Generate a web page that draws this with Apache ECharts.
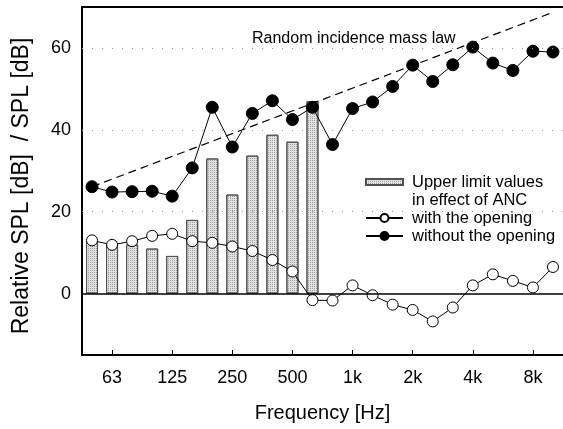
<!DOCTYPE html>
<html>
<head>
<meta charset="utf-8">
<script src="https://cdn.jsdelivr.net/npm/echarts@6/dist/echarts.min.js"></script>
<style>
html,body{margin:0;padding:0;background:#fff;}
#chart{width:563px;height:429px;}
</style>
</head>
<body>
<div id="chart"></div>
<script>
// Third-octave band centre frequencies
var bands = ["50","63","80","100","125","160","200","250","315","400","500","630","800","1k","1.25k","1.6k","2k","2.5k","3.15k","4k","5k","6.3k","8k","10k"];
var tickLabels = ["63","125","250","500","1k","2k","4k","8k"];
// Upper limit values in effect of ANC (bars, 50 Hz .. 630 Hz)
var upperLimit = [13.0, 11.9, 12.0, 11.0, 9.2, 18.0, 33.0, 24.2, 33.7, 38.8, 37.1, 47.0, '-', '-', '-', '-', '-', '-', '-', '-', '-', '-', '-', '-'];
// with the opening
var withOpening = [13.0, 11.9, 12.8, 14.1, 14.6, 12.8, 12.4, 11.5, 10.4, 8.2, 5.4, -1.6, -1.7, 2.0, -0.4, -2.7, -4.0, -6.8, -3.4, 2.0, 4.7, 3.1, 1.5, 6.5];
// without the opening
var withoutOpening = [26.1, 24.8, 24.9, 25.0, 23.8, 30.7, 45.5, 35.8, 44.0, 47.1, 42.5, 45.5, 36.4, 45.2, 46.8, 50.6, 55.8, 51.8, 55.9, 60.2, 56.3, 54.5, 59.2, 59.0];
// Random incidence mass law (straight line between end bands)
var massLaw = [26.1, '-', '-', '-', '-', '-', '-', '-', '-', '-', '-', '-', '-', '-', '-', '-', '-', '-', '-', '-', '-', '-', '-', 68.7];
var gridLines = [20, 40, 60];
var yLabels = [0, 20, 40, 60];

var FONT = '"Liberation Sans", Arial, Helvetica, sans-serif';
var chart = echarts.init(document.getElementById('chart'), null, {renderer: 'canvas'});

var nameBar = 'Upper limit values\nin effect of ANC';
var nameWith = 'with the opening';
var nameWithout = 'without the opening';

var markData = gridLines.map(function (v) {
  return {yAxis: v, lineStyle: {color: '#9a9a9a', type: [1, 9], width: 1}};
});
markData.push({yAxis: 0, lineStyle: {color: '#000', type: 'solid', width: 1.5}});

var option = {
  animation: false,
  backgroundColor: '#fff',
  textStyle: {fontFamily: FONT, color: '#000'},
  title: {
    text: 'Random incidence mass law',
    left: 252, top: 31,
    textStyle: {fontFamily: FONT, fontSize: 16, fontWeight: 'normal', color: '#000'},
    padding: 0
  },
  grid: {left: 82, right: -1, top: 7, bottom: 74},
  legend: {
    orient: 'vertical',
    left: 365, top: 155,
    padding: 0,
    itemGap: 0,
    itemWidth: 37, itemHeight: 10,
    textStyle: {fontFamily: FONT, fontSize: 16.5, lineHeight: 18, color: '#000', padding: [0, 0, 0, 4]},
    formatter: function (name) {
      return name === nameBar ? ' \n' + name : name;
    },
    data: [
      {name: nameBar, icon: 'path://M0,0H37V6H0Z'},
      {name: nameWith},
      {name: nameWithout}
    ]
  },
  xAxis: [{
    type: 'category',
    data: bands,
    position: 'bottom',
    boundaryGap: true,
    axisLine: {show: true, onZero: false, lineStyle: {color: '#000', width: 2}},
    axisTick: {
      show: true,
      inside: true, length: 5, alignWithLabel: true,
      lineStyle: {color: '#000', width: 1},
      interval: function (i, v) { return tickLabels.indexOf(v) >= 0; }
    },
    axisLabel: {
      fontFamily: FONT, fontSize: 18, color: '#000', margin: 14,
      interval: function (i, v) { return tickLabels.indexOf(v) >= 0; }
    },
    splitLine: {show: false},
    name: 'Frequency [Hz]',
    nameLocation: 'middle',
    nameGap: 48,
    nameTextStyle: {fontFamily: FONT, fontSize: 20, color: '#000'}
  }, {
    type: 'category',
    data: bands,
    position: 'top',
    axisLine: {show: true, onZero: false, lineStyle: {color: '#000', width: 2}},
    axisTick: {show: false},
    axisLabel: {show: false}
  }],
  yAxis: {
    type: 'value',
    min: -15, max: 70, interval: 5,
    axisLine: {show: true, onZero: false, lineStyle: {color: '#000', width: 2}},
    axisTick: {show: false},
    splitLine: {show: false},
    axisLabel: {
      fontFamily: FONT, fontSize: 18, color: '#000', margin: 11,
      formatter: function (v) { return yLabels.indexOf(v) >= 0 ? String(v) : ''; }
    },
    name: 'Relative SPL [dB]  / SPL [dB]',
    nameLocation: 'middle',
    nameGap: 49,
    nameTextStyle: {fontFamily: FONT, fontSize: 23, color: '#000', padding: [0, 10, 0, 0]}
  },
  series: [
    {
      name: nameBar,
      type: 'bar',
      data: upperLimit,
      barWidth: 12,
      z: 1,
      itemStyle: {
        color: '#e2e2e2',
        borderColor: '#505050',
        borderWidth: 1,
        decal: {symbol: 'rect', symbolSize: 1, dashArrayX: [1, 1], dashArrayY: [1, 1], color: 'rgba(0,0,0,0.3)'}
      },
      markLine: {
        silent: true, symbol: 'none', label: {show: false},
        data: markData
      }
    },
    {
      name: 'mass law',
      type: 'line',
      data: massLaw,
      connectNulls: true,
      showSymbol: false,
      symbol: 'none',
      z: 2,
      lineStyle: {color: '#000', width: 1.2, type: [8, 5]}
    },
    {
      name: nameWith,
      type: 'line',
      data: withOpening,
      symbol: 'circle',
      symbolSize: 11,
      z: 4,
      lineStyle: {color: '#000', width: 1},
      itemStyle: {color: '#fff', borderColor: '#000', borderWidth: 1}
    },
    {
      name: nameWithout,
      type: 'line',
      data: withoutOpening,
      symbol: 'circle',
      symbolSize: 12,
      z: 4,
      lineStyle: {color: '#000', width: 1},
      itemStyle: {color: '#000', borderColor: '#000', borderWidth: 1}
    }
  ]
};
chart.setOption(option);
</script>
</body>
</html>
